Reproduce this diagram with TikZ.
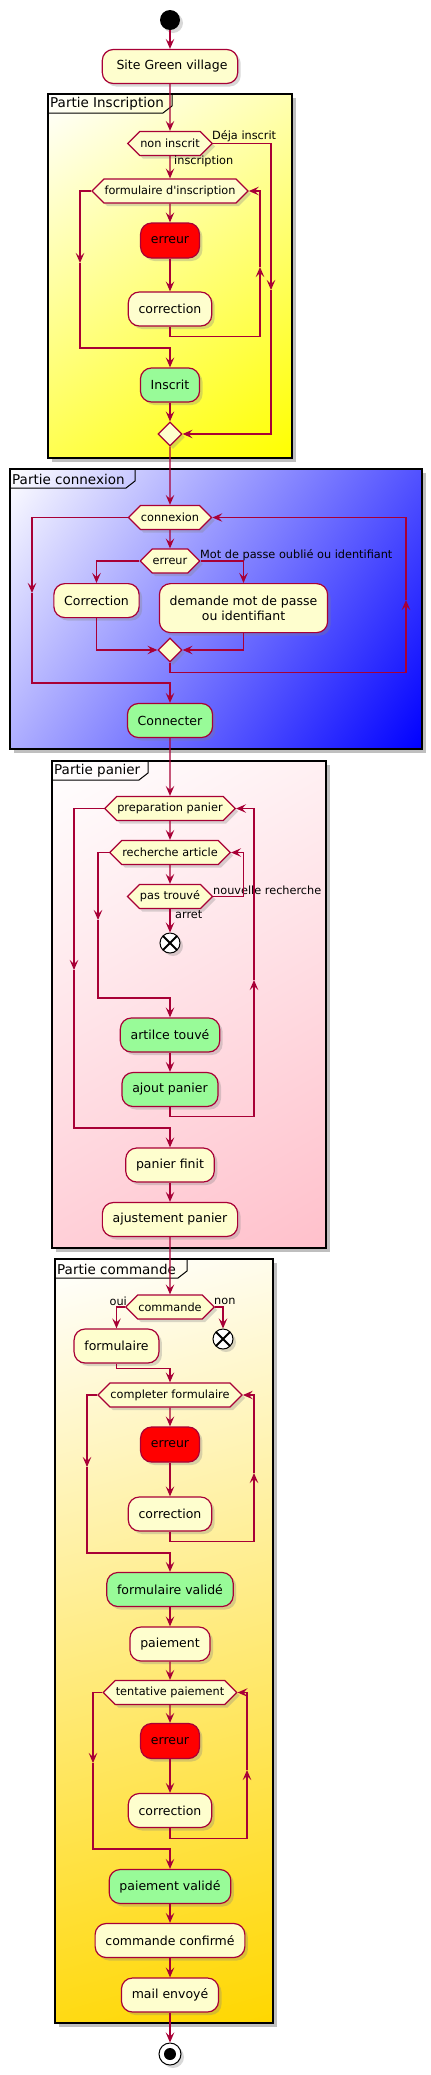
\documentclass[tikz,border=0pt]{standalone}
\usepackage{fontspec}
\setmainfont{DejaVu Sans}
\usetikzlibrary{arrows.meta,positioning,calc,shapes.geometric,shapes.symbols,shadows}
\definecolor{ln}{HTML}{A80036}
\definecolor{actbg}{HTML}{FEFECE}
\definecolor{okgreen}{HTML}{98FB98}
\definecolor{errred}{HTML}{FF0000}
% degrades diagonaux (blanc en haut a gauche)
\pgfdeclarefunctionalshading{insgrad}{\pgfpoint{0bp}{0bp}}{\pgfpoint{100bp}{100bp}}{}{
  exch 25 sub 0.31 mul 50 div exch 75 exch sub 0.69 mul 50 div add
  1 exch sub 1 1 3 -1 roll }
\pgfdeclarefunctionalshading{cnxgrad}{\pgfpoint{0bp}{0bp}}{\pgfpoint{100bp}{100bp}}{}{
  exch 25 sub 0.68 mul 50 div exch 75 exch sub 0.32 mul 50 div add
  1 exch sub dup 1 }
\pgfdeclarefunctionalshading{pangrad}{\pgfpoint{0bp}{0bp}}{\pgfpoint{100bp}{100bp}}{}{
  exch 25 sub 0.24 mul 50 div exch 75 exch sub 0.76 mul 50 div add
  dup 0.2471 mul 1 exch sub exch 0.2039 mul 1 exch sub 1 3 1 roll }
\pgfdeclarefunctionalshading{cmdgrad}{\pgfpoint{0bp}{0bp}}{\pgfpoint{100bp}{100bp}}{}{
  exch 25 sub 0.075 mul 50 div exch 75 exch sub 0.925 mul 50 div add
  dup 0.1569 mul 1 exch sub exch 1 exch sub 1 3 1 roll }
\tikzset{
  shadowed/.style={drop shadow={opacity=0.3, shadow xshift=3pt, shadow yshift=-3pt}},
  act/.style={draw=ln, fill=actbg, line width=1.2pt, rounded corners=11pt, minimum height=34pt,
    inner xsep=10.3pt, inner ysep=0pt, font=\fontsize{12.5}{14.5}\selectfont, shadowed},
  okbox/.style={act, fill=okgreen},
  errbox/.style={act, fill=errred, minimum height=35pt},
  hexa/.style={signal, signal to=east and west, signal pointer angle=90, draw=ln, fill=actbg,
    line width=1.2pt, minimum height=24pt, inner xsep=0.5pt, inner ysep=0pt,
    font=\fontsize{11.3}{13}\selectfont, shadowed},
  merge/.style={diamond, aspect=1, draw=ln, fill=actbg, line width=1.2pt, minimum size=24pt,
    inner sep=0pt, shadowed},
  startn/.style={circle, fill=black, minimum size=20pt, inner sep=0pt, shadowed},
  stopn/.style={circle, draw=black, fill=white, line width=1pt, minimum size=22pt, inner sep=0pt,
    shadowed, path picture={\fill[black] (path picture bounding box.center) circle (6pt);}},
  endx/.style={circle, draw=black, fill=white, line width=1pt, minimum size=20pt, inner sep=0pt,
    shadowed, path picture={\draw[line width=2pt]
      (path picture bounding box.north west) -- (path picture bounding box.south east)
      (path picture bounding box.north east) -- (path picture bounding box.south west);}},
  lbl/.style={font=\fontsize{11.3}{13}\selectfont, inner sep=0pt},
  grpframe/.style={draw=black, line width=1.5pt},
  grptab/.style={draw=black, line width=1pt},
  grptitle/.style={font=\fontsize{13.5}{15}\selectfont, inner sep=0pt, anchor=west},
  flow/.style={draw=ln, line width=1.2pt},
  arrow/.style={flow, -{Stealth[length=10pt, width=8.5pt, inset=4pt]}},
}
% #1 x0  #2 y0  #3 x1  #4 y1  #5 right of tab  #6 title  #7 shading
\newcommand{\partie}[7]{%
  \fill[black, opacity=0.25] (#1+4,#2+4) rectangle (#3+4,#4+4);
  \shade[shading=#7] (#1,#2) rectangle (#3,#4);
  \draw[grpframe] (#1,#2) rectangle (#3,#4);
  \draw[grptab] (#1,#2+19) -- (#5-9,#2+19) -- (#5,#2+12) -- (#5,#2);
  \node[grptitle] at (#1+2,#2+10) {#6};
}

\begin{document}
\begin{tikzpicture}[x=1pt, y=-1pt]
  \fill[white] (0,0) rectangle (431,2075);
  \useasboundingbox (0,0) rectangle (431,2075);

  % groupes
  \partie{48}{94}{292}{458}{172}{Partie Inscription}{insgrad}
  \partie{10}{469}{422}{749}{135}{Partie connexion}{cnxgrad}
  \partie{52}{761}{326}{1248}{148}{Partie panier}{pangrad}
  \partie{55}{1259}{273}{2023}{187}{Partie commande}{cmdgrad}

  % inscription
  \node[startn] (start) at (170,20) {};
  \node[act] (site) at (170,66.5) {\ Site Green village};
  \node[hexa] (nonins) at (170,143.5) {non inscrit};
  \node[hexa] (formIns) at (170,191) {formulaire d\textquotesingle inscription};
  \node[errbox] (err1) at (170,240.5) {erreur};
  \node[act] (corr1) at (170,309) {correction};
  \node[okbox] (inscrit) at (170,385) {Inscrit};
  \node[merge] (merge1) at (170,434) {};
  \coordinate (insD) at (271,290);
  \coordinate (insU) at (260,267);
  \coordinate (insL) at (80,263);

  % connexion
  \node[hexa] (cnx) at (170,517.5) {connexion};
  \node[hexa] (errc) at (170,561) {erreur};
  \node[act, anchor=north] (corrc) at (96.5,583) {Correction};
  \node[act, anchor=north, minimum height=49pt, align=center] (demande) at (243.5,583)
    {demande mot de passe\\ou identifiant};
  \node[merge] (merge2) at (170,650) {};
  \node[okbox] (connecter) at (170,720.5) {Connecter};
  \coordinate (cnxU) at (406,600);
  \coordinate (cnxL) at (32,593);

  % panier
  \node[hexa] (prep) at (170,808.5) {preparation panier};
  \node[hexa] (rech) at (170,852.5) {recherche article};
  \node[hexa] (pastr) at (170,896.5) {pas trouvé};
  \node[endx] (endx1) at (170,943) {};
  \node[okbox] (trouve) at (170,1035) {artilce touvé};
  \node[okbox] (ajout) at (170,1089.5) {ajout panier};
  \node[act] (finit) at (170,1165) {panier finit};
  \node[act] (ajust) at (170,1219.5) {ajustement panier};
  \coordinate (prepU) at (254,980);
  \coordinate (prepL) at (74,970);
  \coordinate (rechL) at (98,920);

  % commande
  \node[hexa] (cmd) at (170,1307) {commande};
  \node[act] (form) at (116.5,1346) {formulaire};
  \node[endx] (endx2) at (223,1339) {};
  \node[hexa] (compl) at (170,1395) {completer formulaire};
  \node[errbox] (err3) at (170,1444.5) {erreur};
  \node[act] (corr3) at (170,1514) {correction};
  \node[okbox] (fvalid) at (170,1589.5) {formulaire validé};
  \node[act] (paie) at (170,1644) {paiement};
  \node[hexa] (tent) at (170,1692.5) {tentative paiement};
  \node[errbox] (err4) at (170,1741) {erreur};
  \node[act] (corr4) at (170,1810.5) {correction};
  \node[okbox] (pvalid) at (170,1886.5) {paiement validé};
  \node[act] (confirme) at (170,1940.5) {commande confirmé};
  \node[act] (mail) at (170,1995) {mail envoyé};
  \node[stopn] (stop) at (170,2054) {};
  \coordinate (complU) at (254,1473);
  \coordinate (complL) at (87,1467);
  \coordinate (tentU) at (247,1770);
  \coordinate (tentL) at (93,1763);

  % libelles
  \node[lbl, anchor=west] (lDeja) at (212,136) {Déja inscrit};
  \node[lbl, anchor=west] (lIns) at (174,161) {inscription};
  \node[lbl, anchor=west] (lMdp) at (200,555) {Mot de passe oublié ou identifiant};
  \node[lbl, anchor=west] (lNouv) at (213,890) {nouvelle recherche};
  \node[lbl, anchor=west] (lArret) at (175,915) {arret};
  \node[lbl, anchor=east] (lOui) at (127,1301) {oui};
  \node[lbl, anchor=west] (lNon) at (214,1301) {non};

  % liens inscription
  \draw[arrow] (start) -- (site);
  \draw[arrow] (site) -- (nonins);
  \draw[arrow] (nonins) -- (formIns);
  \draw[arrow] (nonins.east) -| (insD);
  \draw[arrow] (insD) |- (merge1.east);
  \draw[arrow] (formIns) -- (err1);
  \draw[arrow] (err1) -- (corr1);
  \draw[arrow] (corr1.south) -- ++(0,10) -| (insU);
  \draw[arrow] (insU) |- (formIns.east);
  \draw[arrow] (formIns.west) -| (insL);
  \draw[arrow] (insL) -- (80,348) -| (inscrit.north);
  \draw[arrow] (inscrit) -- (merge1);
  \draw[arrow] (merge1) -- (cnx);

  % liens connexion
  \draw[arrow] (cnx) -- (errc);
  \draw[arrow] (errc.west) -| (corrc.north);
  \draw[arrow] (errc.east) -| (demande.north);
  \draw[arrow] (corrc.south) |- (merge2.west);
  \draw[arrow] (demande.south) |- (merge2.east);
  \draw[arrow] (merge2.south) -- ++(0,10) -| (cnxU);
  \draw[arrow] (cnxU) |- (cnx.east);
  \draw[arrow] (cnx.west) -| (cnxL);
  \draw[arrow] (cnxL) -- (32,683) -| (connecter.north);
  \draw[arrow] (connecter) -- (prep);

  % liens panier
  \draw[arrow] (prep) -- (rech);
  \draw[arrow] (rech) -- (pastr);
  \draw[arrow] (pastr) -- (endx1);
  \draw[arrow] (pastr.east) -- ++(30,0) |- (rech.east);
  \draw[arrow] (rech.west) -| (rechL);
  \draw[arrow] (rechL) -- (98,998) -| (trouve.north);
  \draw[arrow] (trouve) -- (ajout);
  \draw[arrow] (ajout.south) -- ++(0,9) -| (prepU);
  \draw[arrow] (prepU) |- (prep.east);
  \draw[arrow] (prep.west) -| (prepL);
  \draw[arrow] (prepL) -- (74,1128) -| (finit.north);
  \draw[arrow] (finit) -- (ajust);
  \draw[arrow] (ajust) -- (cmd);

  % liens commande
  \draw[arrow] (cmd.west) -| (form.north);
  \draw[arrow] (cmd.east) -| (endx2.north);
  \draw[arrow] (form.south) -- ++(0,5) -| (compl.north);
  \draw[arrow] (compl) -- (err3);
  \draw[arrow] (err3) -- (corr3);
  \draw[arrow] (corr3.south) -- ++(0,10) -| (complU);
  \draw[arrow] (complU) |- (compl.east);
  \draw[arrow] (compl.west) -| (complL);
  \draw[arrow] (complL) -- (87,1553) -| (fvalid.north);
  \draw[arrow] (fvalid) -- (paie);
  \draw[arrow] (paie) -- (tent);
  \draw[arrow] (tent) -- (err4);
  \draw[arrow] (err4) -- (corr4);
  \draw[arrow] (corr4.south) -- ++(0,10) -| (tentU);
  \draw[arrow] (tentU) |- (tent.east);
  \draw[arrow] (tent.west) -| (tentL);
  \draw[arrow] (tentL) -- (93,1849) -| (pvalid.north);
  \draw[arrow] (pvalid) -- (confirme);
  \draw[arrow] (confirme) -- (mail);
  \draw[arrow] (mail) -- (stop);
\end{tikzpicture}
\end{document}
